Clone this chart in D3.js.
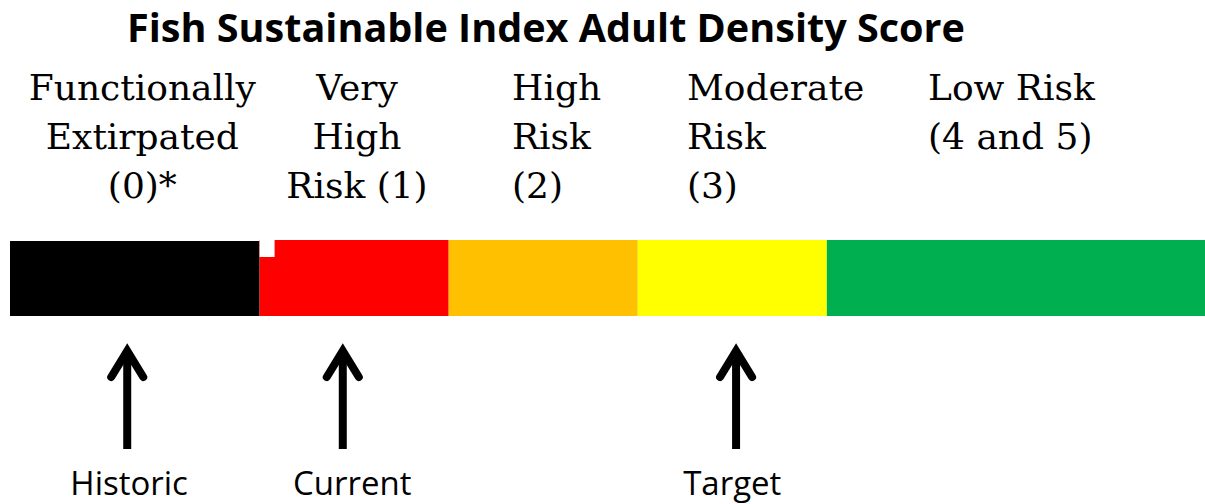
<!DOCTYPE html>
<script src="https://cdn.jsdelivr.net/npm/d3@7"></script>
<style>
    body { margin: 0; background: white; }
    svg { display: block; }
</style>
<svg width="1205" height="504"></svg>
<script>
    // score bands (edges in score units), colours and their labels
    var bandEdges = [-1.32, 0, 1, 2, 3, 5];
    var bandColors = ["#000000", "#ff0000", "#ffc000", "#ffff00", "#00b050"];
    var bandLabels = [
        ["Functionally", "Extirpated", "(0)*"],
        ["Very", "High", "Risk (1)"],
        ["High", "Risk", "(2)"],
        ["Moderate", "Risk", "(3)"],
        ["Low Risk", "(4 and 5)"]
    ];
    var labelAt = [-0.62, 0.515, 1.335, 2.26, 3.535];
    var labelAlign = ["middle", "middle", "start", "start", "start"];

    // markers below the bar
    var markerNames = ["Historic", "Current", "Target"];
    var markerScores = [-0.70, 0.44, 2.52];
    var markerLabelAt = [-0.69, 0.49, 2.50];

    var svg = d3.select("svg");
    var x = d3.scaleLinear().domain([bandEdges[0], bandEdges[bandEdges.length - 1]]).range([10, 1205]);

    var title = svg.append("text")
        .attr("x", 546).attr("y", 42)
        .attr("text-anchor", "middle")
        .style("font-family", "'Open Sans', sans-serif")
        .style("font-weight", 700)
        .style("font-size", "33px")
        .text("Fish Sustainable Index Adult Density Score");
    // fit the title to the width it has in the reference
    var w = title.node().getComputedTextLength();
    title.style("font-size", (33 * 838 / w) + "px");

    var bands = bandColors.map(function(c, i) {
        return { color: c, x0: bandEdges[i], x1: bandEdges[i + 1], lines: bandLabels[i], at: labelAt[i], align: labelAlign[i] };
    });

    svg.selectAll("rect.band").data(bands).enter().append("rect")
        .attr("class", "band")
        .attr("x", function(d) { return x(d.x0); })
        .attr("width", function(d) { return x(d.x1) - x(d.x0); })
        .attr("y", function(d, i) { return i == 0 ? 241 : 240; })
        .attr("height", function(d, i) { return i == 0 ? 75 : 76; })
        .attr("fill", function(d) { return d.color; });

    // small white notch at the top left of the red band
    svg.append("rect").attr("x", x(0)).attr("y", 240).attr("width", 15).attr("height", 17).attr("fill", "white");

    var lab = svg.selectAll("text.band").data(bands).enter().append("text")
        .attr("class", "band")
        .attr("text-anchor", function(d) { return d.align; })
        .style("font-family", "'DejaVu Serif', serif")
        .style("font-size", "36px")
        .attr("fill", "#000");
    lab.selectAll("tspan").data(function(d) { return d.lines.map(function(l) { return { t: l, x: x(d.at) }; }); })
        .enter().append("tspan")
        .attr("x", function(d) { return d.x; })
        .attr("y", function(d, i) { return 100 + i * 49; })
        .text(function(d) { return d.t; });

    var markers = markerNames.map(function(n, i) { return { name: n, s: markerScores[i], l: markerLabelAt[i] }; });
    var m = svg.selectAll("g.marker").data(markers).enter().append("g").attr("class", "marker");
    m.append("line")
        .attr("x1", function(d) { return x(d.s); }).attr("x2", function(d) { return x(d.s); })
        .attr("y1", 352).attr("y2", 449)
        .attr("stroke", "black").attr("stroke-width", 8);
    m.append("path")
        .attr("d", function(d) { var c = x(d.s); return "M" + (c - 16) + ",377L" + c + ",351L" + (c + 16) + ",377"; })
        .attr("fill", "none").attr("stroke", "black").attr("stroke-width", 8)
        .attr("stroke-linecap", "round").attr("stroke-linejoin", "miter");
    m.append("text")
        .attr("x", function(d) { return x(d.l); }).attr("y", 495)
        .attr("text-anchor", "middle")
        .style("font-family", "'Open Sans', sans-serif")
        .style("font-size", "33px")
        .text(function(d) { return d.name; });
</script>
